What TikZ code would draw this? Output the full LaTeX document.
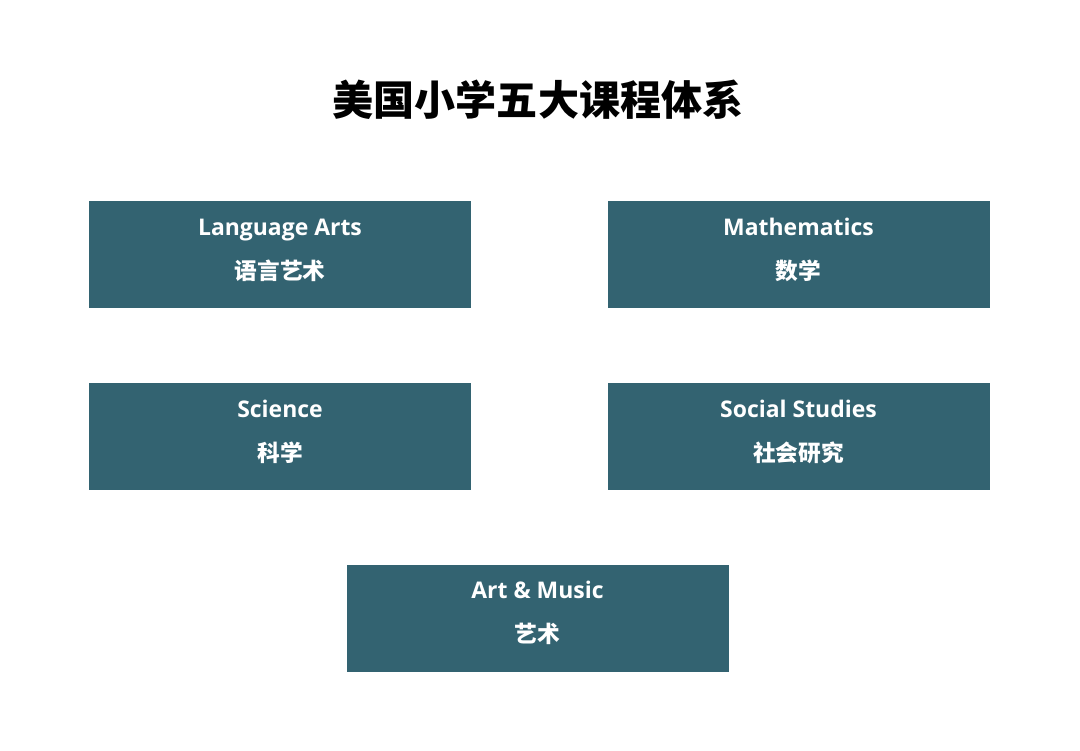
\documentclass[tikz,border=0pt]{standalone}
\usepackage{fontspec}
\setmainfont{Open Sans}
\newfontfamily\cjk{Noto Sans CJK SC}
\definecolor{boxc}{HTML}{336371}
\begin{document}
\begin{tikzpicture}[x=0.75pt,y=-0.75pt,
  card/.style={fill=boxc,draw=none,minimum width=382*0.75pt,minimum height=107*0.75pt,inner sep=0pt},
  entxt/.style={text=white,font=\fontsize{17.2pt}{19pt}\selectfont\bfseries,inner sep=0pt,anchor=base},
  zhtxt/.style={text=white,font=\cjk\fontsize{17pt}{19pt}\selectfont\bfseries,inner sep=0pt}]
\useasboundingbox[fill=white] (0,0) rectangle (1080,750);
\node[font=\cjk\fontsize{30.8pt}{34pt}\selectfont\bfseries,inner sep=0pt] (title) at (538,100) {美国小学五大课程体系};
\node[card] (la) at (280,254.5) {};
\node[entxt] (laen) at (280,235) {Language Arts};
\node[zhtxt] (lazh) at (280,270.5) {语言艺术};
\node[card] (ma) at (798.5,254.5) {};
\node[entxt] (maen) at (798.5,235) {Mathematics};
\node[zhtxt] (mazh) at (798.5,270.5) {数学};
\node[card] (sc) at (280,436.5) {};
\node[entxt] (scen) at (280,417) {Science};
\node[zhtxt] (sczh) at (280,452.5) {科学};
\node[card] (ss) at (798.5,436.5) {};
\node[entxt] (ssen) at (798.5,417) {Social Studies};
\node[zhtxt] (sszh) at (798.5,452.5) {社会研究};
\node[card] (am) at (537.5,618) {};
\node[entxt] (amen) at (537.5,598.5) {Art \& Music};
\node[zhtxt] (amzh) at (537.5,634) {艺术};
\end{tikzpicture}
\end{document}
